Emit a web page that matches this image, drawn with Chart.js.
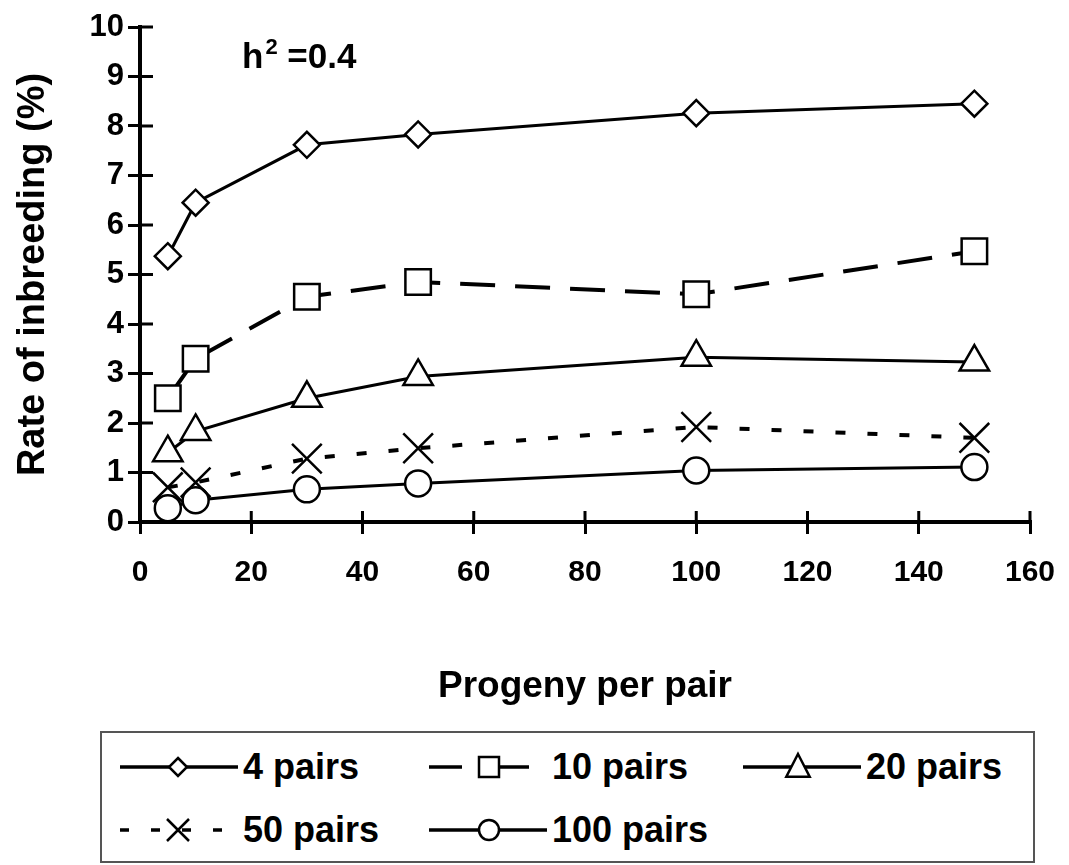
<!DOCTYPE html>
<html>
<head>
<meta charset="utf-8">
<script src="https://cdn.jsdelivr.net/npm/chart.js@4/dist/chart.umd.min.js"></script>
<style>
  html, body { margin: 0; padding: 0; background: #fff; }
  #wrap { position: relative; width: 1069px; height: 865px; font-family: "Liberation Sans", Arial, sans-serif; font-weight: bold; color: #000; }
  #chartBox { position: absolute; left: 0; top: 0; width: 1069px; height: 720px; }
  #note { position: absolute; left: 242px; top: 38px; font-size: 35px; line-height: 35px; white-space: nowrap; }
  #note .sup { font-size: 22px; position: relative; top: -14px; margin-left: 2px; }
  #legend { position: absolute; left: 100px; top: 731px; width: 931px; height: 128px; border: 2px solid #555; }
  .item { position: absolute; height: 40px; display: flex; align-items: center; font-size: 36px; white-space: nowrap; }
  .item canvas { margin-right: 5px; }
</style>
</head>
<body>
<div id="wrap">
  <div id="chartBox"><canvas id="chart"></canvas></div>
  <div id="note">h<span class="sup">2</span> =0.4</div>
  <div id="legend"></div>
</div>
<script>
// data
const progeny = [5, 10, 30, 50, 100, 150];
const pairs4 = [5.37, 6.45, 7.62, 7.83, 8.26, 8.45];
const pairs10 = [2.5, 3.3, 4.55, 4.85, 4.6, 5.47];
const pairs20 = [1.4, 1.83, 2.5, 2.94, 3.33, 3.23];
const pairs50 = [0.7, 0.8, 1.28, 1.49, 1.92, 1.7];
const pairs100 = [0.28, 0.44, 0.66, 0.78, 1.04, 1.11];
const seriesNames = ['4 pairs', '10 pairs', '20 pairs', '50 pairs', '100 pairs'];
const xTitle = 'Progeny per pair';
const yTitle = 'Rate of inbreeding (%)';

const FONT = "'Liberation Sans', Arial, sans-serif";
const toPoints = vals => vals.map((v, i) => ({ x: progeny[i], y: v }));

const styles = [
    { width: 3, dash: [], point: 'rectRot', r: 13 },
    { width: 4, dash: [35, 20], point: 'rect', r: 18 },
    { width: 3, dash: [], point: 'triangle', r: 17 },
    { width: 4, dash: [10, 22], point: 'crossRot', r: 21 },
    { width: 3, dash: [], point: 'circle', r: 13 }
];
const allSeries = [pairs4, pairs10, pairs20, pairs50, pairs100];

const datasets = allSeries.map((vals, i) => ({
    label: seriesNames[i],
    data: toPoints(vals),
    borderColor: '#000',
    borderWidth: styles[i].width,
    borderDash: styles[i].dash,
    pointStyle: styles[i].point,
    pointRadius: styles[i].r,
    pointBorderWidth: 2.5,
    pointBorderColor: '#000',
    pointBackgroundColor: '#fff',
    fill: false,
    tension: 0
}));

// ticks that cross the axis lines (inner half; outer half comes from the grid)
const crossTicks = {
    id: 'crossTicks',
    beforeDatasetsDraw(chart) {
        const { ctx, chartArea, scales: { x, y } } = chart;
        ctx.save();
        ctx.strokeStyle = '#000';
        ctx.lineWidth = 3;
        ctx.beginPath();
        x.ticks.forEach(t => {
            const px = x.getPixelForValue(t.value);
            ctx.moveTo(px, chartArea.bottom);
            ctx.lineTo(px, chartArea.bottom - 11);
        });
        y.ticks.forEach(t => {
            const py = y.getPixelForValue(t.value);
            ctx.moveTo(chartArea.left, py);
            ctx.lineTo(chartArea.left + 13, py);
        });
        ctx.stroke();
        ctx.restore();
    }
};

const axisCommon = {
    type: 'linear',
    border: { color: '#000', width: 4 },
    grid: { drawOnChartArea: false, color: '#000', lineWidth: 3, tickLength: 12 },
};

new Chart(document.getElementById('chart'), {
    type: 'line',
    data: { datasets },
    plugins: [crossTicks],
    options: {
        responsive: true,
        maintainAspectRatio: false,
        animation: false,
        layout: { padding: { left: 11, right: 39, top: 27, bottom: 11 } },
        scales: {
            x: {
                ...axisCommon,
                min: 0, max: 160,
                ticks: { stepSize: 20, color: '#000', padding: 21, font: { family: FONT, size: 30, weight: 'bold' } },
                title: { display: true, text: xTitle, color: '#000', padding: 0, font: { family: FONT, size: 37, weight: 'bold' } },
                afterFit: s => { s.height = 187; s.paddingLeft = 0; s.paddingRight = 0; }
            },
            y: {
                ...axisCommon,
                min: 0, max: 10,
                ticks: { stepSize: 1, color: '#000', padding: 4, font: { family: FONT, size: 31, weight: 'bold' } },
                title: { display: true, text: yTitle, color: '#000', padding: 0, font: { family: FONT, size: 38, weight: 'bold' } },
                afterFit: s => { s.width = 129; }
            }
        },
        plugins: {
            legend: { display: false },
            tooltip: { enabled: false }
        }
    }
});

// html legend built from the same series styles
function drawIcon(cv, st, spec) {
    const c = cv.getContext('2d');
    const cy = cv.height / 2;
    c.strokeStyle = '#000';
    c.lineWidth = 3.5;
    c.setLineDash(spec.dash);
    c.beginPath();
    c.moveTo(0, cy);
    c.lineTo(spec.lineEnd, cy);
    c.stroke();
    c.setLineDash([]);
    const mx = spec.mx, r = spec.r;
    c.fillStyle = '#fff';
    c.lineWidth = 2.5;
    c.beginPath();
    if (st.point === 'rectRot') {
        c.moveTo(mx, cy - r); c.lineTo(mx + r, cy); c.lineTo(mx, cy + r); c.lineTo(mx - r, cy); c.closePath();
    } else if (st.point === 'rect') {
        c.rect(mx - r, cy - r, 2 * r, 2 * r);
    } else if (st.point === 'triangle') {
        c.moveTo(mx, cy - r); c.lineTo(mx + r * 0.9, cy + r * 0.75); c.lineTo(mx - r * 0.9, cy + r * 0.75); c.closePath();
    } else if (st.point === 'circle') {
        c.arc(mx, cy, r, 0, Math.PI * 2);
    }
    if (st.point === 'crossRot') {
        c.moveTo(mx - r, cy - r); c.lineTo(mx + r, cy + r);
        c.moveTo(mx + r, cy - r); c.lineTo(mx - r, cy + r);
        c.stroke();
    } else {
        c.fill();
        c.stroke();
    }
}

const legendSpec = [
    { left: 18, top: 14, dash: [], lineEnd: 118, mx: 58, r: 9 },
    { left: 327, top: 14, dash: [33, 17, 50, 100], lineEnd: 100, mx: 60, r: 10 },
    { left: 641, top: 14, dash: [], lineEnd: 118, mx: 55, r: 13 },
    { left: 18, top: 77, dash: [9, 22], lineEnd: 118, mx: 58, r: 11 },
    { left: 327, top: 77, dash: [], lineEnd: 118, mx: 60, r: 10 }
];
const legendEl = document.getElementById('legend');
seriesNames.forEach((name, i) => {
    const spec = legendSpec[i];
    const item = document.createElement('div');
    item.className = 'item';
    item.style.left = spec.left + 'px';
    item.style.top = spec.top + 'px';
    const cv = document.createElement('canvas');
    cv.width = 118; cv.height = 40;
    drawIcon(cv, styles[i], spec);
    const label = document.createElement('span');
    label.textContent = name;
    item.appendChild(cv);
    item.appendChild(label);
    legendEl.appendChild(item);
});
</script>
</body>
</html>
